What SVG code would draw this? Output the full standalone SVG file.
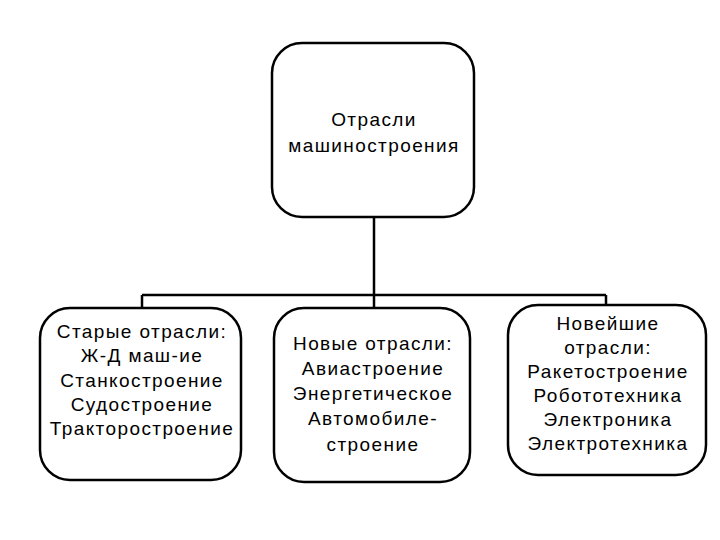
<svg xmlns="http://www.w3.org/2000/svg" width="720" height="540" viewBox="0 0 720 540">
<style>
.b{fill:#fff;stroke:#000;stroke-width:2.5}
.c{fill:none;stroke:#000;stroke-width:2.5}
text{font-family:"Liberation Sans",Arial,sans-serif;font-size:19px;letter-spacing:1.4px;fill:#000;text-anchor:middle}
</style>
<rect width="720" height="540" fill="#fff"/>
<g id="connectors">
<path class="c" d="M374 217V295M142 295H606M142 295V308M374 295V308M606 295V305"/>
</g>
<g id="root">
<rect class="b" x="272" y="43" width="202" height="174" rx="30"/>
<text x="374" y="126">Отрасли</text>
<text x="374" y="152">машиностроения</text>
</g>
<g id="old">
<rect class="b" x="40" y="308" width="201" height="172" rx="30"/>
<text x="142" y="338">Старые отрасли:</text>
<text x="142" y="362">Ж-Д маш-ие</text>
<text x="142" y="387">Станкостроение</text>
<text x="142" y="411">Судостроение</text>
<text x="142" y="435">Тракторостроение</text>
</g>
<g id="new">
<rect class="b" x="274" y="308" width="196" height="174" rx="30"/>
<text x="373" y="350">Новые отрасли:</text>
<text x="373" y="375">Авиастроение</text>
<text x="373" y="400">Энергетическое</text>
<text x="373" y="425">Автомобиле-</text>
<text x="373" y="451">строение</text>
</g>
<g id="newest">
<rect class="b" x="508" y="305" width="198" height="170" rx="30"/>
<text x="608" y="330">Новейшие</text>
<text x="608" y="354">отрасли:</text>
<text x="608" y="378">Ракетостроение</text>
<text x="608" y="402">Робототехника</text>
<text x="608" y="426">Электроника</text>
<text x="608" y="450">Электротехника</text>
</g>
</svg>
